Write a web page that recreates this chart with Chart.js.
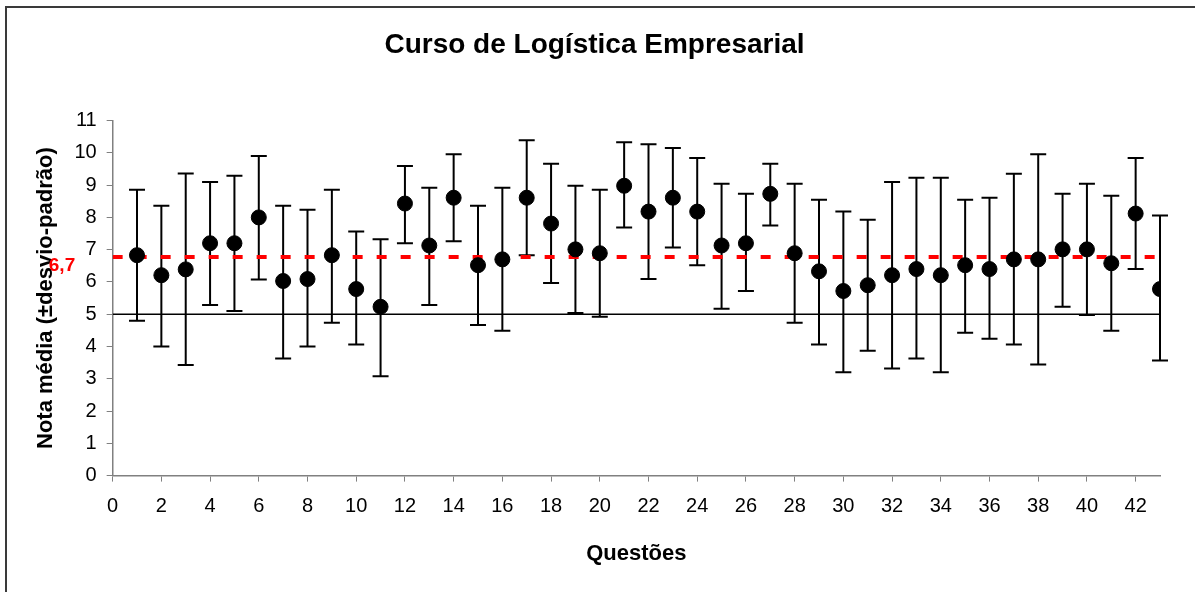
<!DOCTYPE html>
<html>
<head>
<meta charset="utf-8">
<script src="https://cdn.jsdelivr.net/npm/chart.js@4/dist/chart.umd.min.js"></script>
<style>
body{margin:0;background:#fff}
#wrap{width:1195px;height:592px;position:relative}
</style>
</head>
<body>
<div id="wrap"><canvas id="c"></canvas></div>
<script>
let questoes=[1,2,3,4,5,6,7,8,9,10,11,12,13,14,15,16,17,18,19,20,21,22,23,24,25,26,27,28,29,30,31,32,33,34,35,36,37,38,39,40,41,42,43]
let media=[6.83,6.21,6.39,7.20,7.20,8.00,6.03,6.09,6.83,5.78,5.23,8.43,7.13,8.61,6.52,6.70,8.61,7.81,7.01,6.89,8.98,8.18,8.61,8.18,7.13,7.20,8.73,6.89,6.33,5.72,5.90,6.21,6.40,6.21,6.52,6.40,6.70,6.70,7.01,7.01,6.58,8.12,5.78]
let limSup=[8.86,8.36,9.36,9.10,9.29,9.90,8.36,8.24,8.86,7.56,7.32,9.59,8.92,9.96,8.36,8.92,10.39,9.66,8.98,8.86,10.33,10.27,10.15,9.84,9.04,8.73,9.66,9.04,8.55,8.18,7.93,9.10,9.23,9.23,8.55,8.61,9.35,9.96,8.73,9.04,8.67,9.84,8.06]
let limInf=[4.80,4.00,3.43,5.29,5.10,6.08,3.63,4.00,4.74,4.06,3.08,7.20,5.29,7.26,4.67,4.49,6.83,5.97,5.04,4.92,7.69,6.09,7.07,6.52,5.17,5.72,7.75,4.74,4.06,3.20,3.87,3.32,3.63,3.20,4.43,4.24,4.06,3.44,5.23,4.98,4.49,6.40,3.57]
let notaMinima=5
let mediaGeral=6.77
let mediaTexto="6,7"

Chart.defaults.font.family="'Liberation Sans', Arial, sans-serif"
Chart.defaults.color="#000"

let pontos=questoes.map((q,i)=>({x:q,y:media[i]}))

// error bars, border and the red label
let extras={
id:"extras",
beforeDatasetsDraw(chart){
let ctx=chart.ctx
let xs=chart.scales.x, ys=chart.scales.y
ctx.save()
ctx.strokeStyle="#000"
ctx.lineWidth=2
questoes.forEach((q,i)=>{
let px=xs.getPixelForValue(q)
let top=ys.getPixelForValue(limSup[i])
let bot=ys.getPixelForValue(limInf[i])
ctx.beginPath()
ctx.moveTo(px,top);ctx.lineTo(px,bot)
ctx.moveTo(px-8,top);ctx.lineTo(px+8,top)
ctx.moveTo(px-8,bot);ctx.lineTo(px+8,bot)
ctx.stroke()
})
ctx.restore()
},
afterDraw(chart){
let ctx=chart.ctx
ctx.save()
ctx.strokeStyle="#3a3a3a"
ctx.lineWidth=2
ctx.beginPath()
ctx.moveTo(6,592);ctx.lineTo(6,7);ctx.lineTo(1195,7)
ctx.stroke()
let y=chart.scales.y.getPixelForValue(mediaGeral)
ctx.fillStyle="#ff0000"
ctx.font="bold 19px 'Liberation Sans', Arial, sans-serif"
ctx.textAlign="center"
ctx.textBaseline="middle"
ctx.fillText(mediaTexto,62,y+9)
ctx.restore()
}
}

new Chart(document.getElementById("c"),{
type:"scatter",
data:{
datasets:[{
label:"Nota média",
data:pontos,
backgroundColor:"#000",
borderColor:"#000",
pointRadius:7.5,
order:0
},{
type:"line",
label:"Nota mínima",
data:[{x:0,y:notaMinima},{x:43,y:notaMinima}],
borderColor:"#000",
borderWidth:1.5,
pointRadius:0,
order:2
},{
type:"line",
label:"Média geral",
data:[{x:0,y:mediaGeral},{x:43,y:mediaGeral}],
borderColor:"#ff0000",
borderWidth:4,
borderDash:[10,14],
pointRadius:0,
order:1
}]
},
options:{
responsive:true,
maintainAspectRatio:false,
animation:false,
layout:{padding:{top:28,left:29,right:35,bottom:21}},
plugins:{
legend:{display:false},
tooltip:{enabled:false},
title:{
display:true,
text:"Curso de Logística Empresarial",
font:{size:28,weight:"bold"},
padding:{top:0,bottom:59}
}
},
scales:{
x:{
type:"linear",
min:0,max:43,
ticks:{stepSize:2,includeBounds:false,font:{size:20},padding:13,maxRotation:0},
grid:{drawOnChartArea:false,tickLength:6,color:"#808080"},
border:{color:"#808080",width:1.5},
title:{display:true,text:"Questões",font:{size:22,weight:"bold"},padding:{top:9}}
},
y:{
min:0,max:11,
ticks:{stepSize:1,font:{size:20},padding:10},
grid:{drawOnChartArea:false,tickLength:6,color:"#808080"},
border:{color:"#808080",width:1.5},
title:{display:true,text:"Nota média (±desvio-padrão)",font:{size:22,weight:"bold"},padding:{bottom:5}}
}
}
},
plugins:[extras]
})
</script>
</body>
</html>
